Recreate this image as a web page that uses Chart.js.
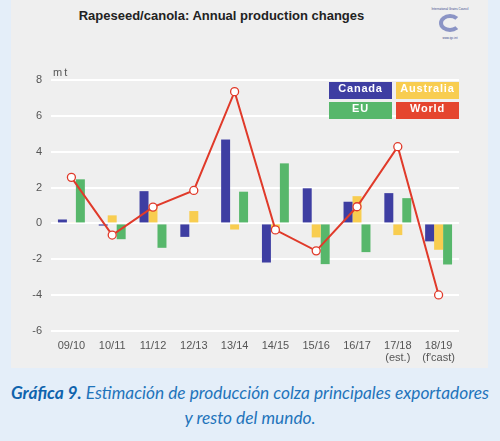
<!DOCTYPE html>
<html>
<head>
<meta charset="utf-8">
<script src="https://cdn.jsdelivr.net/npm/chart.js@4"></script>
<style>
  body { margin: 0; background: #e4eef9; }
  #wrap { position: relative; width: 500px; height: 441px; overflow: hidden; }
  #panel { position: absolute; left: 11px; top: 0; width: 477px; height: 368px; background: #efefef; }
  #title { position: absolute; left: 0; width: 443px; top: 8px; text-align: center;
    font: bold 13px "Liberation Sans", Arial, sans-serif; color: #222; }
  #unit { position: absolute; left: 53px; top: 66px; font: 11px "Liberation Sans", Arial, sans-serif;
    color: #555; letter-spacing: 2px; }
  #logo { position: absolute; left: 425px; top: 7px; width: 50px; text-align: center; white-space: nowrap;
    font: 3px "Liberation Sans", Arial, sans-serif; color: #3c4a8c; }
  #logo .sw { width: 22px; height: 18px; margin: 3px auto 4px; border-radius: 50%;
    border: 4px solid #6a76b8; border-right-color: transparent; box-sizing: border-box; opacity: 0.75; }
  .leg { position: absolute; width: 63px; height: 17px; line-height: 18px; text-align: center;
    font: bold 11px "Liberation Sans", Arial, sans-serif; color: #fff; letter-spacing: 0.8px; }
  #caption { position: absolute; left: 0; width: 500px; top: 380px; text-align: center;
    font: italic 17.3px Lato, sans-serif; color: #1f74bb; line-height: 25px; }
  #caption b { color: #0f63ad; }
  canvas { position: absolute; left: 11px; top: 0; }
</style>
</head>
<body>
<div id="wrap">
  <div id="panel"></div>
  <div id="title">Rapeseed/canola: Annual production changes</div>
  <div id="logo">International Grains Council<div class="sw"></div>www.igc.int</div>
  <canvas id="barCanvas" width="477" height="368"></canvas>
  <div id="unit">mt</div>
  <div id="legend"></div>
  <div id="caption"><b>Gráfica 9.</b> Estimación de producción colza principales exportadores<br>y resto del mundo.</div>
</div>
<script>
const seasons = ["09/10", "10/11", "11/12", "12/13", "13/14", "14/15", "15/16", "16/17", ["17/18", "(est.)"], ["18/19", "(f'cast)"]];
const canada    = [0.22, -0.12, 1.8, -0.75, 4.68, -2.18, 1.96, 1.21, 1.69, -1.0];
const australia = [0.05, 0.45, 1.0, 0.69, -0.34, -0.28, -0.78, 1.52, -0.65, -1.47];
const eu        = [2.46, -0.88, -1.36, 0, 1.77, 3.35, -2.27, -1.6, 1.41, -2.29];
const world     = [2.57, -0.65, 0.91, 1.84, 7.35, -0.36, -1.53, 0.93, 4.28, -3.99];
const yTicks = [-6, -4, -2, 0, 2, 4, 6, 8];

const colCanada = "#3e3ea2";
const colAustralia = "#f8cd50";
const colEU = "#57b76b";
const colWorld = "#e03a2a";

const barCanvas = document.getElementById("barCanvas");
const chart = new Chart(barCanvas, {
  type: "bar",
  data: {
    labels: seasons,
    datasets: [
      { label: "Canada", data: canada, backgroundColor: colCanada, order: 1 },
      { label: "Australia", data: australia, backgroundColor: colAustralia, order: 1 },
      { label: "EU", data: eu, backgroundColor: colEU, order: 1 },
      {
        label: "World", type: "line", data: world, order: 0,
        borderColor: colWorld, borderWidth: 2,
        pointBackgroundColor: "#fff", pointBorderColor: colWorld,
        pointBorderWidth: 1.3, pointRadius: 4, tension: 0
      }
    ]
  },
  options: {
    responsive: false,
    animation: false,
    layout: { padding: { top: 80, right: 29, left: 0, bottom: 0 } },
    datasets: { bar: { categoryPercentage: 0.66, barPercentage: 1.0 } },
    plugins: { legend: { display: false }, tooltip: { enabled: false } },
    scales: {
      x: {
        grid: { display: false },
        border: { display: false },
        ticks: { color: "#555", font: { family: "Liberation Sans", size: 11, lineHeight: 1.1 }, padding: 1, maxRotation: 0 },
        afterFit: a => { a.height = 37; }
      },
      y: {
        min: -6, max: 8,
        afterBuildTicks: a => { a.ticks = yTicks.map(v => ({ value: v })); },
        grid: { color: "#ffffff", lineWidth: 2, drawTicks: false },
        border: { display: false },
        ticks: { color: "#555", font: { family: "Liberation Sans", size: 11 }, padding: 9 },
        afterFit: a => { a.width = 40; }
      }
    }
  }
});

// legend boxes
const legend = document.getElementById("legend");
const legPos = [[329, 82], [396, 82], [329, 102], [396, 102]];
const legCol = [colCanada, colAustralia, colEU, "#e5452e"];
chart.data.datasets.forEach((ds, i) => {
  const d = document.createElement("div");
  d.className = "leg";
  d.style.left = legPos[i][0] + "px";
  d.style.top = legPos[i][1] + "px";
  d.style.background = legCol[i];
  d.textContent = ds.label;
  legend.appendChild(d);
});
</script>
</body>
</html>
